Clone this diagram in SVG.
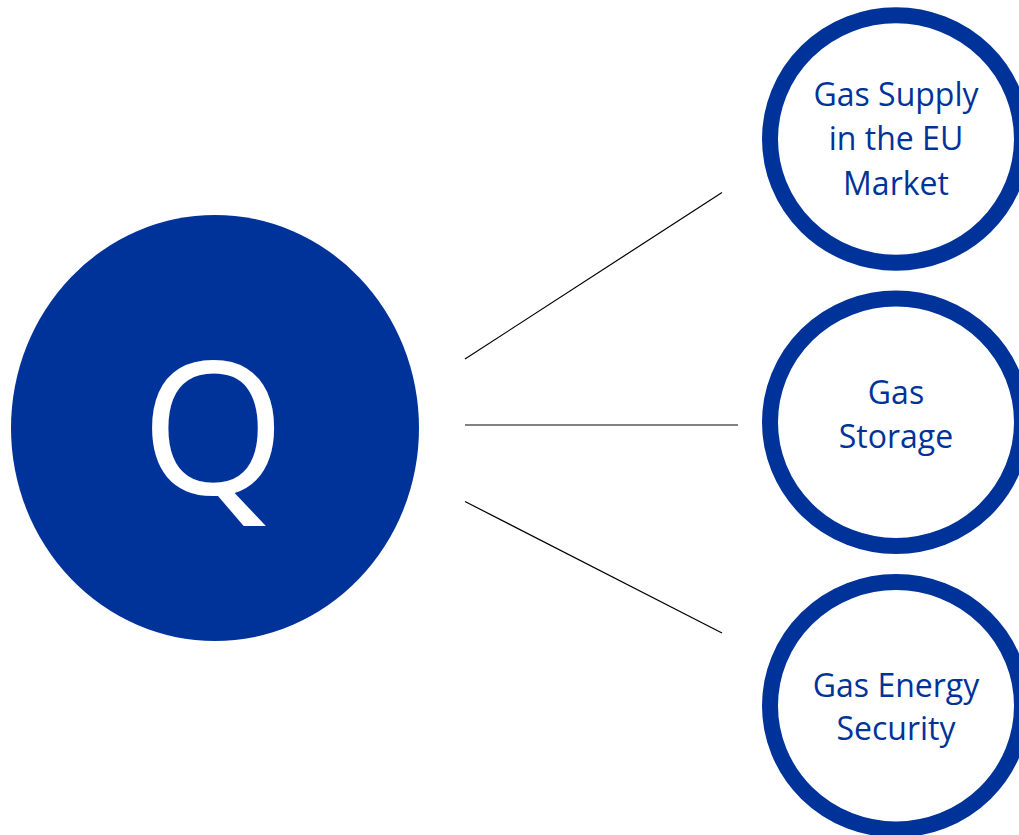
<svg xmlns="http://www.w3.org/2000/svg" width="1019" height="835" viewBox="0 0 1019 835">
<style>
.ring{fill:#ffffff;stroke:#003399;stroke-width:16}
.lbl{font-family:"Open Sans","Noto Sans",sans-serif;font-size:32px;fill:#003399;text-anchor:middle}
.conn{stroke:#000000;stroke-width:1.2;fill:none}
</style>
<rect width="1019" height="835" fill="#ffffff"/>
<g id="connectors">
<line class="conn" x1="465" y1="359" x2="722" y2="192.5"/>
<line class="conn" x1="465" y1="425" x2="738" y2="425" style="stroke:#595959;stroke-width:1.5"/>
<line class="conn" x1="465" y1="501.5" x2="722" y2="633"/>
</g>
<g id="node-q">
<ellipse cx="215" cy="428" rx="204" ry="213" fill="#003399"/>
<text x="213" y="494" style="font-family:'Open Sans','Noto Sans',sans-serif;font-size:186px;fill:#ffffff;text-anchor:middle">Q</text>
</g>
<g id="node-supply">
<ellipse class="ring" cx="896" cy="139" rx="126" ry="123.7"/>
<text class="lbl" x="896" y="106">Gas Supply</text>
<text class="lbl" x="896" y="150">in the EU</text>
<text class="lbl" x="896" y="195">Market</text>
</g>
<g id="node-storage">
<ellipse class="ring" cx="896" cy="422.3" rx="126" ry="123.7"/>
<text class="lbl" x="896" y="404">Gas</text>
<text class="lbl" x="896" y="448">Storage</text>
</g>
<g id="node-security">
<ellipse class="ring" cx="896" cy="705.7" rx="126" ry="123.7"/>
<text class="lbl" x="896" y="697">Gas Energy</text>
<text class="lbl" x="896" y="740">Security</text>
</g>
</svg>
